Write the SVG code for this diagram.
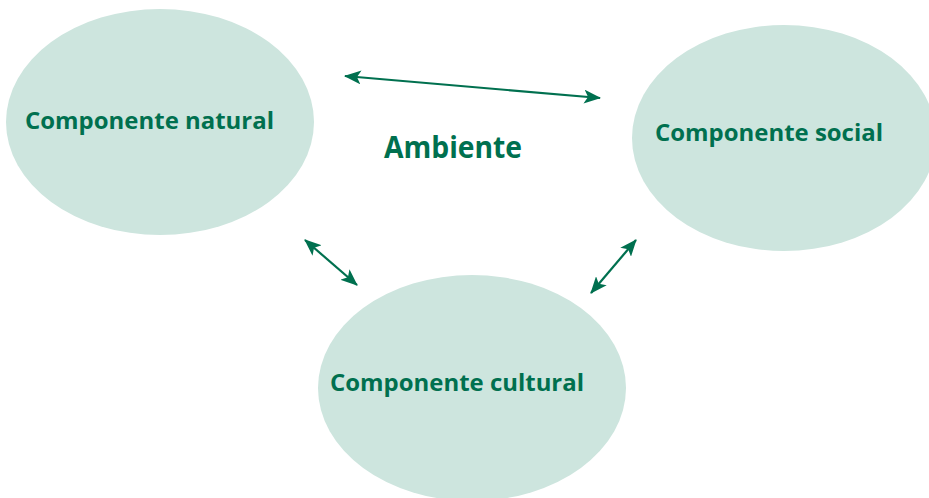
<svg xmlns="http://www.w3.org/2000/svg" width="929" height="498" viewBox="0 0 929 498">
<style>
.node{fill:#cde5de;}
.lbl{font-family:"Open Sans","Liberation Sans",sans-serif;font-weight:bold;fill:#00704f;font-size:23px;}
.title{font-family:"Open Sans","Liberation Sans",sans-serif;font-weight:bold;fill:#00704f;font-size:30px;}
.conn{stroke:#00704f;stroke-width:2.2;fill:none;marker-start:url(#a);marker-end:url(#a);}
</style>
<defs>
<marker id="a" viewBox="0 0 17 14" refX="16" refY="7" markerWidth="17" markerHeight="14" markerUnits="userSpaceOnUse" orient="auto-start-reverse">
<path d="M0,0 L17,7 L0,14 L4,7 z" fill="#00704f"/>
</marker>
</defs>
<rect width="929" height="498" fill="#ffffff"/>
<g id="natural">
<ellipse class="node" cx="160" cy="122" rx="154" ry="113"/>
<text class="lbl" x="25" y="129" textLength="249" lengthAdjust="spacingAndGlyphs">Componente natural</text>
</g>
<g id="social">
<ellipse class="node" cx="784" cy="138" rx="152" ry="113"/>
<text class="lbl" x="655" y="141" textLength="228" lengthAdjust="spacingAndGlyphs">Componente social</text>
</g>
<g id="cultural">
<ellipse class="node" cx="472" cy="388" rx="154" ry="113"/>
<text class="lbl" x="330" y="391" textLength="254" lengthAdjust="spacingAndGlyphs">Componente cultural</text>
</g>
<g id="ambiente">
<text class="title" x="384" y="158" textLength="138" lengthAdjust="spacingAndGlyphs">Ambiente</text>
</g>
<g id="connectors">
<line class="conn" x1="345" y1="76" x2="600" y2="98"/>
<line class="conn" x1="305" y1="240" x2="357" y2="285"/>
<line class="conn" x1="636" y1="240" x2="591" y2="293"/>
</g>
</svg>
